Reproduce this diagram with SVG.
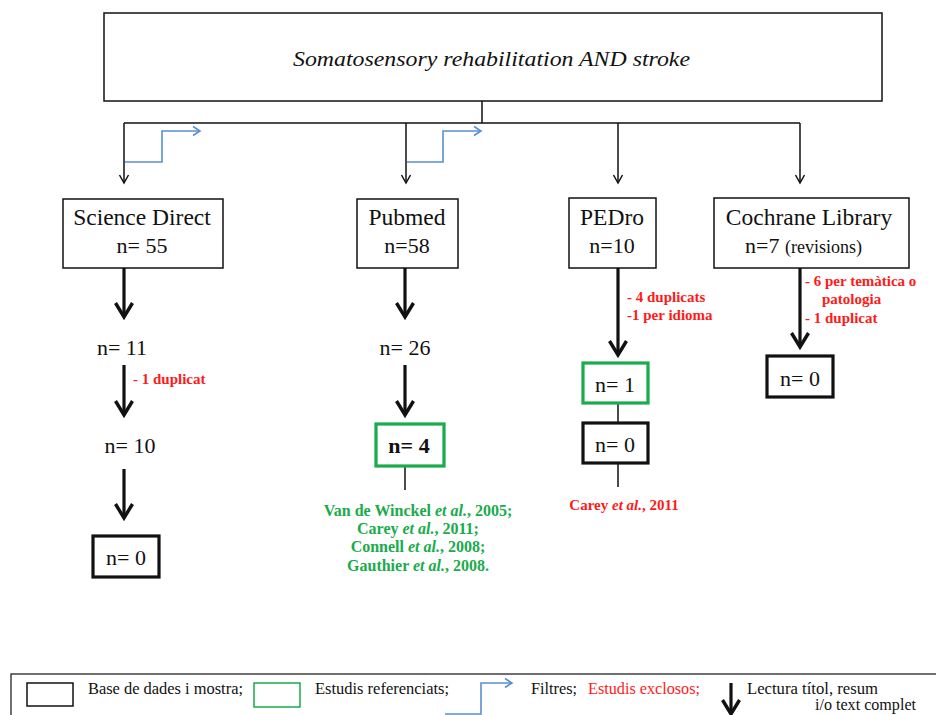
<svg xmlns="http://www.w3.org/2000/svg" width="936" height="715" viewBox="0 0 936 715">
  <style>
    .box { fill: #fff; stroke: #111; stroke-width: 1.5; }
    .boxk { fill: #fff; stroke: #111; stroke-width: 3.2; }
    .boxg { fill: #fff; stroke: #1aab4b; stroke-width: 3.2; }
    .t { font-family: "Liberation Serif", "Times New Roman", serif; fill: #111; }
    .db { font-size: 23.5px; text-anchor: middle; }
    .n { font-size: 22px; text-anchor: middle; }
    .red { font-family: "Liberation Serif", "Times New Roman", serif; fill: #ff1a1a; font-size: 15px; font-weight: bold; }
    .grn { font-family: "Liberation Serif", "Times New Roman", serif; fill: #1aab4b; font-size: 16px; font-weight: bold; text-anchor: middle; }
    .leg { font-family: "Liberation Serif", "Times New Roman", serif; fill: #111; font-size: 16px; }
    .legred { fill: #ff1a1a; }
    .thin { stroke: #111; stroke-width: 1.5; fill: none; }
    .thick { stroke: #111; stroke-width: 3.2; fill: none; }
    .blue { stroke: #5b8ed0; stroke-width: 1.6; fill: none; }
  </style>
  <defs>
    <marker id="arrThin" markerUnits="userSpaceOnUse" markerWidth="12" markerHeight="12" viewBox="-1 -6 12 12" refX="9" refY="0" orient="auto">
      <path d="M1,-4.5 L9,0 L1,4.5" fill="none" stroke="#111" stroke-width="1.5"/>
    </marker>
    <marker id="arrThick" markerUnits="userSpaceOnUse" markerWidth="22" markerHeight="24" viewBox="-2 -11 22 22" refX="15" refY="0" orient="auto">
      <path d="M1,-8.5 L15,0 L1,8.5" fill="none" stroke="#111" stroke-width="3.4"/>
    </marker>
    <marker id="arrBlue" markerUnits="userSpaceOnUse" markerWidth="12" markerHeight="12" viewBox="-1 -6 12 12" refX="8" refY="0" orient="auto">
      <path d="M1,-4.5 L8,0 L1,4.5" fill="none" stroke="#5b8ed0" stroke-width="1.6"/>
    </marker>
  </defs>

  <rect width="936" height="715" fill="#fff"/>

  <!-- connectors -->
  <g id="connectors">
    <!-- search split -->
    <path class="thin" d="M482,101 V123 M124,123 H800"/>
    <path class="thin" d="M124,123 V183" marker-end="url(#arrThin)"/>
    <path class="thin" d="M406,123 V183" marker-end="url(#arrThin)"/>
    <path class="thin" d="M618,123 V183" marker-end="url(#arrThin)"/>
    <path class="thin" d="M800,123 V183" marker-end="url(#arrThin)"/>
    <!-- filters -->
    <path class="blue" d="M125,162 H162 V131 H200" marker-end="url(#arrBlue)"/>
    <path class="blue" d="M407,162 H443 V131 H481" marker-end="url(#arrBlue)"/>
    <!-- Science Direct chain -->
    <path class="thick" d="M124,268 V317" marker-end="url(#arrThick)"/>
    <path class="thick" d="M124,365 V415" marker-end="url(#arrThick)"/>
    <path class="thick" d="M124,469 V518" marker-end="url(#arrThick)"/>
    <!-- Pubmed chain -->
    <path class="thick" d="M405,268 V317" marker-end="url(#arrThick)"/>
    <path class="thick" d="M405,365 V415" marker-end="url(#arrThick)"/>
    <path class="thin" d="M405,466 V490"/>
    <!-- PEDro chain -->
    <path class="thick" d="M618,268 V355" marker-end="url(#arrThick)"/>
    <path class="thin" d="M618,403 V423 M618,463 V487"/>
    <!-- Cochrane chain -->
    <path class="thick" d="M800,268 V347" marker-end="url(#arrThick)"/>
  </g>

  <!-- search query -->
  <g id="query">
    <rect class="box" x="104" y="13" width="778" height="88"/>
    <text class="t" x="293" y="66" font-size="22" font-style="italic" textLength="397" lengthAdjust="spacingAndGlyphs">Somatosensory rehabilitation AND stroke</text>
  </g>

  <!-- databases -->
  <g id="science-direct">
    <rect class="box" x="63" y="199" width="160" height="69"/>
    <text class="t db" x="142" y="225">Science Direct</text>
    <text class="t n" x="142" y="253">n= 55</text>
  </g>
  <g id="pubmed">
    <rect class="box" x="357" y="199" width="101" height="69"/>
    <text class="t db" x="407" y="225">Pubmed</text>
    <text class="t n" x="407" y="253">n=58</text>
  </g>
  <g id="pedro">
    <rect class="box" x="569" y="198" width="87" height="70"/>
    <text class="t db" x="612" y="225">PEDro</text>
    <text class="t n" x="612" y="253">n=10</text>
  </g>
  <g id="cochrane">
    <rect class="box" x="714" y="198" width="195" height="70"/>
    <text class="t db" x="809" y="225">Cochrane Library</text>
    <text class="t" x="745" y="253" font-size="22">n=7 <tspan font-size="18">(revisions)</tspan></text>
  </g>

  <!-- Science Direct steps -->
  <g id="sd-11">
    <text class="t n" x="122" y="355">n= 11</text>
  </g>
  <g id="sd-excl">
    <text class="red" x="133" y="384">- 1 duplicat</text>
  </g>
  <g id="sd-10">
    <text class="t n" x="130" y="453">n= 10</text>
  </g>
  <g id="sd-0">
    <rect class="boxk" x="93" y="536" width="66" height="41"/>
    <text class="t n" x="126" y="565">n= 0</text>
  </g>

  <!-- Pubmed steps -->
  <g id="pm-26">
    <text class="t n" x="405" y="355">n= 26</text>
  </g>
  <g id="pm-4">
    <rect class="boxg" x="376" y="424" width="68" height="42"/>
    <text class="t n" x="409" y="453" font-weight="bold">n= 4</text>
  </g>
  <g id="pm-refs">
    <text class="grn" x="418" y="516">Van de Winckel <tspan font-style="italic">et al.</tspan>, 2005;</text>
    <text class="grn" x="418" y="534">Carey <tspan font-style="italic">et al.</tspan>, 2011;</text>
    <text class="grn" x="418" y="552">Connell <tspan font-style="italic">et al.</tspan>, 2008;</text>
    <text class="grn" x="418" y="571">Gauthier <tspan font-style="italic">et al.</tspan>, 2008.</text>
  </g>

  <!-- PEDro steps -->
  <g id="pe-excl">
    <text class="red" x="627" y="302">- 4 duplicats</text>
    <text class="red" x="627" y="320">-1 per idioma</text>
  </g>
  <g id="pe-1">
    <rect class="boxg" x="583" y="363" width="65" height="40"/>
    <text class="t n" x="615" y="392">n= 1</text>
  </g>
  <g id="pe-0">
    <rect class="boxk" x="583" y="423" width="65" height="40"/>
    <text class="t n" x="615" y="452">n= 0</text>
  </g>
  <g id="pe-ref">
    <text class="red" x="624" y="510" text-anchor="middle" font-size="16">Carey <tspan font-style="italic">et al.</tspan>, 2011</text>
  </g>

  <!-- Cochrane steps -->
  <g id="co-excl">
    <text class="red" x="805" y="286">- 6 per temàtica o</text>
    <text class="red" x="822" y="304">patologia</text>
    <text class="red" x="805" y="323">- 1 duplicat</text>
  </g>
  <g id="co-0">
    <rect class="boxk" x="767" y="356" width="66" height="41"/>
    <text class="t n" x="800" y="386">n= 0</text>
  </g>

  <!-- legend -->
  <g id="legend">
    <rect x="11" y="674" width="940" height="60" fill="#fff" stroke="#111" stroke-width="1.2"/>
    <rect x="27" y="683" width="46" height="23" fill="none" stroke="#111" stroke-width="1.5"/>
    <text class="leg" x="88" y="694" textLength="155" lengthAdjust="spacingAndGlyphs">Base de dades  i mostra;</text>
    <rect x="254" y="683" width="46" height="24" fill="none" stroke="#1aab4b" stroke-width="1.5"/>
    <text class="leg" x="315" y="694" textLength="134" lengthAdjust="spacingAndGlyphs">Estudis referenciats;</text>
    <path class="blue" d="M445,714 H481 V683 H512" marker-end="url(#arrBlue)"/>
    <text class="leg" x="531" y="694" textLength="46" lengthAdjust="spacingAndGlyphs">Filtres;</text>
    <text class="leg legred" x="588" y="694" textLength="112" lengthAdjust="spacingAndGlyphs">Estudis exclosos;</text>
    <path class="thick" d="M731,683 V714" marker-end="url(#arrThick)"/>
    <text class="leg" x="747" y="694" textLength="131" lengthAdjust="spacingAndGlyphs">Lectura títol, resum</text>
    <text class="leg" x="815" y="710" textLength="101" lengthAdjust="spacingAndGlyphs">i/o text complet</text>
  </g>
</svg>
